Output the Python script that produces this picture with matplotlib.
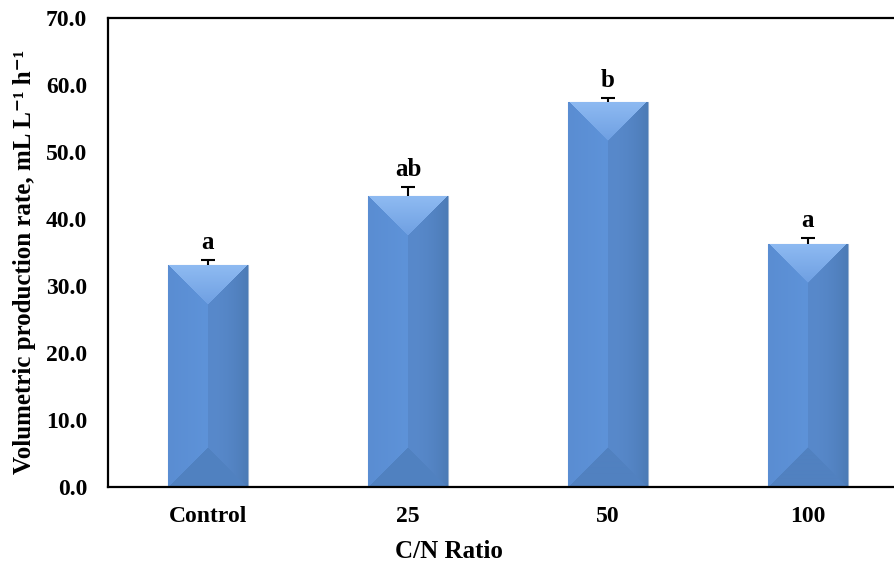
import numpy as np
import matplotlib.pyplot as plt

# === DATA ===
categories = ["Control", "25", "50", "100"]
rates = [33.1, 43.4, 57.5, 36.3]
errors = [0.8, 1.4, 0.6, 0.8]
letters = ["a", "ab", "b", "a"]

plt.rcParams['font.family'] = ['Liberation Serif', 'DejaVu Serif']
plt.rcParams['font.weight'] = 'bold'

fig = plt.figure(figsize=(8.95, 5.69), dpi=100)
# plot area runs past the right edge, like the original
ax = fig.add_axes([108 / 895, 82 / 569, 800 / 895, 469 / 569])
ax.set_xlim(-0.5, 3.5)
ax.set_ylim(0, 70)

x = np.arange(len(categories))
bar_w = 0.4

fig.canvas.draw()
px_x = ax.transData.transform((1, 0))[0] - ax.transData.transform((0, 0))[0]
px_y = ax.transData.transform((0, 1))[1] - ax.transData.transform((0, 0))[1]


def hex2rgb(h):
    h = h.lstrip('#')
    return np.array([int(h[i:i + 2], 16) / 255 for i in (0, 2, 4)])


def bevel_image(w_px, h_px):
    # excel style "angle" bevel: top/bottom triangles, left/right halves
    W, H = int(round(w_px)), int(round(h_px))
    u = np.arange(W)[None, :] + 0.5
    v = np.arange(H)[:, None] + 0.5
    side = np.minimum(u, W - u)
    d_top = v
    d_bot = H - v
    img = np.zeros((H, W, 3))
    left_a = hex2rgb('#5a8dd2')
    left_b = hex2rgb('#5e93d9')
    right_a = hex2rgb('#5889cb')
    right_b = hex2rgb('#4c7bb6')
    tl = np.clip(u / (W / 2), 0, 1)
    left_col = left_a * (1 - tl[..., None]) + left_b * tl[..., None]
    t = np.clip((u - W / 2) / (W / 2), 0, 1) ** 2
    right_col = right_a * (1 - t[..., None]) + right_b * t[..., None]
    left_col = np.broadcast_to(left_col, (H, W, 3))
    right_col = np.broadcast_to(right_col, (H, W, 3))
    is_left = np.broadcast_to(u < W / 2, (H, W))
    img[is_left] = left_col[is_left]
    img[~is_left] = right_col[~is_left]
    top_a = hex2rgb('#8fbbf2')
    top_b = hex2rgb('#6e9fe2')
    tt = np.clip(d_top / (W / 2), 0, 1)
    top_col = top_a * (1 - tt[..., None]) + top_b * tt[..., None]
    top_col = np.broadcast_to(top_col, (H, W, 3))
    in_top = np.broadcast_to(d_top < side, (H, W))
    img[in_top] = top_col[in_top]
    in_bot = np.broadcast_to(d_bot < side, (H, W)) & ~in_top
    img[in_bot] = hex2rgb('#5181c0')
    return img


bars = ax.bar(x, rates, width=bar_w, color='#5a8bcd', edgecolor='#9ab3d3',
              linewidth=0.8, zorder=2)
for b, val in zip(bars, rates):
    x0 = b.get_x()
    img = bevel_image(bar_w * px_x, val * px_y)
    im = ax.imshow(img, extent=(x0, x0 + bar_w, 0, val), aspect='auto',
                   origin='upper', zorder=2.5, interpolation='bilinear')
    im.set_clip_path(b)

eb = ax.errorbar(x, rates, yerr=[np.zeros(len(errors)), errors], fmt='none',
                 ecolor='black', elinewidth=1.5, capsize=5, capthick=1.5, zorder=3)
eb[1][0].set_visible(False)  # no lower cap

for xi, val, err, lab in zip(x, rates, errors, letters):
    ax.annotate(lab, (xi, val + err), xytext=(0, 8), textcoords='offset points',
                ha='center', va='baseline', fontsize=18, fontweight='bold')

ax.set_yticks(np.arange(0, 71, 10))
ax.set_yticklabels([f"{v:.1f}" for v in np.arange(0, 71, 10)])
ax.set_xticks(x)
ax.set_xticklabels(categories)
ax.tick_params(axis='y', length=0, pad=15, labelsize=17)
ax.tick_params(axis='x', length=0, pad=14, labelsize=17)

for s in ['left', 'bottom', 'top']:
    ax.spines[s].set_linewidth(1.6)
ax.spines['right'].set_visible(False)

fig.text(25 / 895, 1 - 262 / 569, "Volumetric production rate, mL L⁻¹ h⁻¹",
         rotation=90, ha='center', va='center', fontsize=18, fontweight='bold')
fig.text(449 / 895, 1 - 552 / 569, "C/N Ratio", ha='center', va='center',
         fontsize=18, fontweight='bold')

plt.savefig("out.png", dpi=100, facecolor="white")
plt.close()
